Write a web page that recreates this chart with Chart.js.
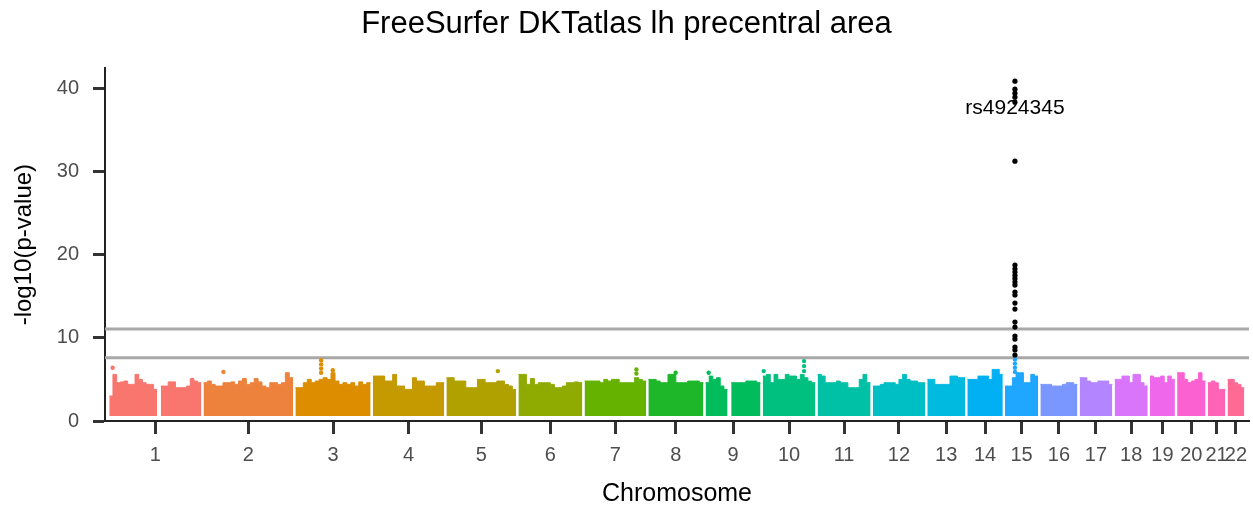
<!DOCTYPE html>
<html>
<head>
<meta charset="utf-8">
<script src="https://cdn.jsdelivr.net/npm/chart.js@4.4.1/dist/chart.umd.min.js"></script>
<style>
    html, body { margin: 0; padding: 0; background: #fff; }
    #wrap { width: 1253px; height: 512px; }
</style>
</head>
<body>
<div id="wrap"><canvas id="manhattan" width="1253" height="512"></canvas></div>
<script>

// =====================
// DATA
// =====================

const CHROMOSOMES = ['1', '2', '3', '4', '5', '6', '7', '8', '9', '10', '11',
    '12', '13', '14', '15', '16', '17', '18', '19', '20', '21', '22'];

// covered span of each chromosome (Mb) and spacing between them
const CHROM_SPAN_MB = [236, 230, 193, 183, 179, 164, 158, 141, 141, 135, 136,
    134, 97, 91, 85, 95, 84, 85, 64, 73, 45, 43];
const GAP_MB = 5.7;
const FIRST_START_MB = 11;
const END_PAD_MB = 12;

// top of the dense cloud of SNPs, read along each chromosome (null = no SNPs)
const ENV_1 = [3.0, 5.6, 4.6, 4.7, 4.8, 4.4, 4.4, 5.6, 5.0, 4.6, 4.4, 4.4, 3.8, null, 4.2, 4.2, 4.7, 4.7, 4.0, 4.0, 4.0, 4.2, 5.1, 4.8, 4.6];
const ENV_2 = [4.6, 4.8, 4.4, 4.2, 4.2, 4.6, 4.6, 4.7, 4.4, 4.8, 5.1, 4.4, 4.6, 5.1, 4.7, 4.2, 4.0, 4.6, 4.6, 4.4, 4.6, 5.8, 5.2];
const ENV_3 = [4.0, 4.0, 4.6, 5.0, 4.6, 4.8, 5.0, 5.2, 5.0, 5.8, 4.8, 4.4, 4.6, 4.4, 4.6, 4.2, 4.7, 4.4, 4.6];
const ENV_4 = [5.4, 5.4, 5.4, 4.8, 4.8, 5.6, 4.2, 4.2, 3.8, 3.8, 5.2, 4.8, 4.8, 4.2, 4.2, 4.2, 4.6, 4.6];
const ENV_5 = [5.2, 5.2, 4.8, 4.8, 4.8, 4.0, 4.0, 4.0, 5.0, 5.0, 4.6, 4.6, 4.6, 4.8, 4.8, 4.4, 4.2, 3.8];
const ENV_6 = [5.6, 5.6, 4.4, 5.1, 4.4, 4.6, 4.6, 4.6, 4.4, 4.0, 4.0, 4.2, 4.6, 4.6, 4.7, 4.6];
const ENV_7 = [4.8, 4.8, 4.8, 4.8, 4.6, 5.0, 4.8, 5.0, 5.0, 4.6, 4.6, 4.6, 4.6, 5.2, 5.0, 4.8];
const ENV_8 = [5.0, 5.0, 4.8, 4.6, 4.6, 5.6, 5.6, 4.6, 4.6, 4.6, 4.8, 4.8, 4.8, 4.6];
const ENV_9 = [4.6, 5.4, 5.0, 5.2, 4.2, 3.8, null, 4.6, 4.6, 4.6, 4.6, 4.8, 4.8, 4.8, 4.6];
const ENV_10 = [5.4, 5.6, 4.6, 5.6, 5.0, 5.0, 5.6, 5.4, 5.4, 5.0, 5.6, 5.2, 4.8, 4.6];
const ENV_11 = [5.6, 5.4, 4.6, 4.6, 4.6, 4.8, 4.6, 4.6, 4.0, 4.0, 4.0, 5.0, 5.6, 4.6];
const ENV_12 = [4.2, 4.2, 4.4, 4.6, 4.6, 4.6, 4.4, 5.0, 5.6, 5.0, 4.8, 4.8, 4.6, 4.6];
const ENV_13 = [5.0, 5.0, 4.4, 4.4, 4.4, 4.4, 5.4, 5.4, 5.2, 5.2];
const ENV_14 = [5.0, 5.0, 5.0, 5.4, 5.4, 5.4, 5.0, 6.2, 6.2, 5.6];
const ENV_15 = [4.2, 4.2, 5.2, 5.8, 5.8, 4.6, 4.6, 5.6, 5.4];
const ENV_16 = [4.4, 4.4, 4.4, 4.2, 4.2, 4.2, 4.4, 4.6, 4.6, 4.4];
const ENV_17 = [5.2, 5.2, 4.8, 4.6, 4.6, 4.8, 4.8, 4.8, 4.4];
const ENV_18 = [5.0, 5.0, 5.4, 5.4, 4.6, 5.6, 5.6, 4.6, 4.2];
const ENV_19 = [5.4, 5.2, 5.2, 5.4, 4.6, 5.4, 5.0];
const ENV_20 = [5.8, 5.8, 5.0, 4.6, 4.8, 5.0, 5.8, 4.8];
const ENV_21 = [4.6, 4.8, 4.6, 3.8, 3.8];
const ENV_22 = [5.0, 5.0, 4.6, 4.4, 4.0];

const ENVELOPES = [ENV_1, ENV_2, ENV_3, ENV_4, ENV_5, ENV_6, ENV_7, ENV_8, ENV_9, ENV_10, ENV_11,
    ENV_12, ENV_13, ENV_14, ENV_15, ENV_16, ENV_17, ENV_18, ENV_19, ENV_20, ENV_21, ENV_22];

const CLOUD_BASE = 0.6;

// single SNPs above the cloud: chromosome, position from chromosome start (Mb), -log10(p)
const OUT_CHROM = [1, 2, 3, 3, 3, 3, 3, 5, 7, 7, 8, 9, 10, 10, 10, 10, 15, 15, 15, 15];
const OUT_POS = [8.7, 51, 66, 66, 66, 66, 96, 132, 133, 133, 70, 8, 2.5, 106, 106, 106, 25.5, 25.5, 25.5, 25.5];
const OUT_P = [6.4, 5.9, 7.3, 6.8, 6.3, 5.8, 6.1, 6.0, 6.2, 5.7, 5.8, 5.8, 6.0, 7.2, 6.6, 6.0, 7.4, 6.9, 6.4, 5.9];

// significant hits on chromosome 15
const HIT_CHROM = 15;
const HIT_POS = 25.5;
const HIT_P = [40.84, 39.88, 39.4, 38.92, 38.32, 31.23, 18.74, 18.3, 17.9, 17.5, 17.1, 16.7, 16.34,
    15.5, 15.14, 14.17, 13.45, 11.89, 11.29, 10.21, 9.85, 8.89, 8.53, 7.93];
const HIT_LABEL = 'rs4924345';
const HIT_LABEL_P = 37.6;

const THRESHOLDS = [11.05, 7.6];
const Y_TICKS = [0, 10, 20, 30, 40];
const Y_MAX = 42.4;

const CHROM_COLORS = ['#F8766D', '#EC823C', '#DC8D00', '#C59900', '#B0A100', '#8FAA00', '#66B200',
    '#1FB72A', '#00BC5A', '#00C080', '#00C0A6', '#00BFC4', '#00BAE0', '#00B0F3', '#1FA6FF',
    '#7997FF', '#B385FF', '#D975FA', '#EF67EB', '#FC61D1', '#FF63B6', '#FF6A94'];


// =====================
// LAYOUT OF THE GENOME AXIS
// =====================

const starts = [];
let cursor = FIRST_START_MB;
CHROM_SPAN_MB.forEach(len => { starts.push(cursor); cursor += len + GAP_MB; });
const X_MAX = cursor - GAP_MB + END_PAD_MB;
const tickPositions = starts.map((s, i) => s + CHROM_SPAN_MB[i] / 2);

function cloudPoints(i) {
    const env = ENVELOPES[i];
    const start = starts[i];
    const step = CHROM_SPAN_MB[i] / env.length;
    const pts = [];
    let prev = null;
    env.forEach((v, k) => {
        const x = start + k * step;
        if (v === null) {
            if (prev !== null) { pts.push({ x: x, y: prev }); pts.push({ x: x, y: null }); }
        } else {
            pts.push({ x: x, y: v });
        }
        prev = v;
    });
    if (prev !== null) pts.push({ x: start + CHROM_SPAN_MB[i], y: prev });
    return pts;
}

const cloudSets = CHROMOSOMES.map((c, i) => ({
    type: 'line',
    label: 'chr' + c,
    data: cloudPoints(i),
    stepped: true,
    spanGaps: false,
    fill: { value: CLOUD_BASE },
    backgroundColor: CHROM_COLORS[i],
    borderColor: CHROM_COLORS[i],
    borderWidth: 1,
    pointRadius: 0,
    order: 4
}));

const outlierSet = {
    type: 'scatter',
    label: 'outliers',
    data: OUT_CHROM.map((c, k) => ({ x: starts[c - 1] + OUT_POS[k], y: OUT_P[k] })),
    pointBackgroundColor: OUT_CHROM.map(c => CHROM_COLORS[c - 1]),
    pointBorderWidth: 0,
    pointRadius: 2.2,
    order: 1
};

const thresholdSets = THRESHOLDS.map(t => ({
    type: 'line',
    label: 'threshold',
    data: [{ x: 0, y: t }, { x: X_MAX, y: t }],
    borderColor: '#A8A8A8',
    borderWidth: 3,
    pointRadius: 0,
    fill: false,
    order: 2
}));

const hitX = starts[HIT_CHROM - 1] + HIT_POS;
const hitSet = {
    type: 'scatter',
    label: 'hits',
    data: HIT_P.map(p => ({ x: hitX, y: p })),
    pointBackgroundColor: '#000',
    pointBorderWidth: 0,
    pointRadius: 2.6,
    order: 0
};

const hitLabel = {
    id: 'hitLabel',
    afterDatasetsDraw(chart) {
        const ctx = chart.ctx;
        ctx.save();
        ctx.font = '21px "Liberation Sans", Arial, sans-serif';
        ctx.fillStyle = '#000';
        ctx.textAlign = 'center';
        ctx.textBaseline = 'middle';
        ctx.fillText(HIT_LABEL, chart.scales.x.getPixelForValue(hitX), chart.scales.y.getPixelForValue(HIT_LABEL_P));
        ctx.restore();
    }
};

const FONT = '"Liberation Sans", Arial, sans-serif';

new Chart(document.getElementById('manhattan'), {
    type: 'line',
    data: { datasets: [hitSet, outlierSet].concat(thresholdSets, cloudSets) },
    options: {
        responsive: false,
        animation: false,
        events: [],
        layout: { padding: 0 },
        plugins: {
            legend: { display: false },
            tooltip: { enabled: false },
            title: {
                display: true,
                text: 'FreeSurfer DKTatlas lh precentral area',
                color: '#000',
                font: { family: FONT, size: 31, weight: 'normal', lineHeight: 1.2 },
                padding: { top: 6, bottom: 25 }
            }
        },
        scales: {
            x: {
                type: 'linear',
                min: 0,
                max: X_MAX,
                afterBuildTicks: s => { s.ticks = tickPositions.map(v => ({ value: v })); },
                afterFit: s => { s.height = 91; s.paddingLeft = 0; s.paddingRight = 0; },
                ticks: {
                    autoSkip: false,
                    maxRotation: 0,
                    padding: 9,
                    color: '#4D4D4D',
                    font: { family: FONT, size: 20 },
                    callback: (v, i) => CHROMOSOMES[i]
                },
                grid: { drawOnChartArea: false, drawTicks: true, tickLength: 13, tickWidth: 3, tickColor: '#333' },
                border: { display: true, color: '#222', width: 2 },
                title: {
                    display: true,
                    text: 'Chromosome',
                    color: '#000',
                    font: { family: FONT, size: 25 },
                    padding: { top: 0, bottom: 3 }
                }
            },
            y: {
                type: 'linear',
                min: 0,
                max: Y_MAX,
                afterBuildTicks: s => { s.ticks = Y_TICKS.map(v => ({ value: v })); },
                afterFit: s => { s.width = 105; },
                ticks: {
                    padding: 14,
                    color: '#4D4D4D',
                    font: { family: FONT, size: 20 }
                },
                grid: { drawOnChartArea: false, drawTicks: true, tickLength: 12, tickWidth: 3, tickColor: '#333' },
                border: { display: true, color: '#222', width: 2 },
                title: {
                    display: true,
                    text: '-log10(p-value)',
                    color: '#000',
                    font: { family: FONT, size: 24 },
                    padding: { top: 10, bottom: 0 }
                }
            }
        }
    },
    plugins: [hitLabel]
});

</script>
</body>
</html>
